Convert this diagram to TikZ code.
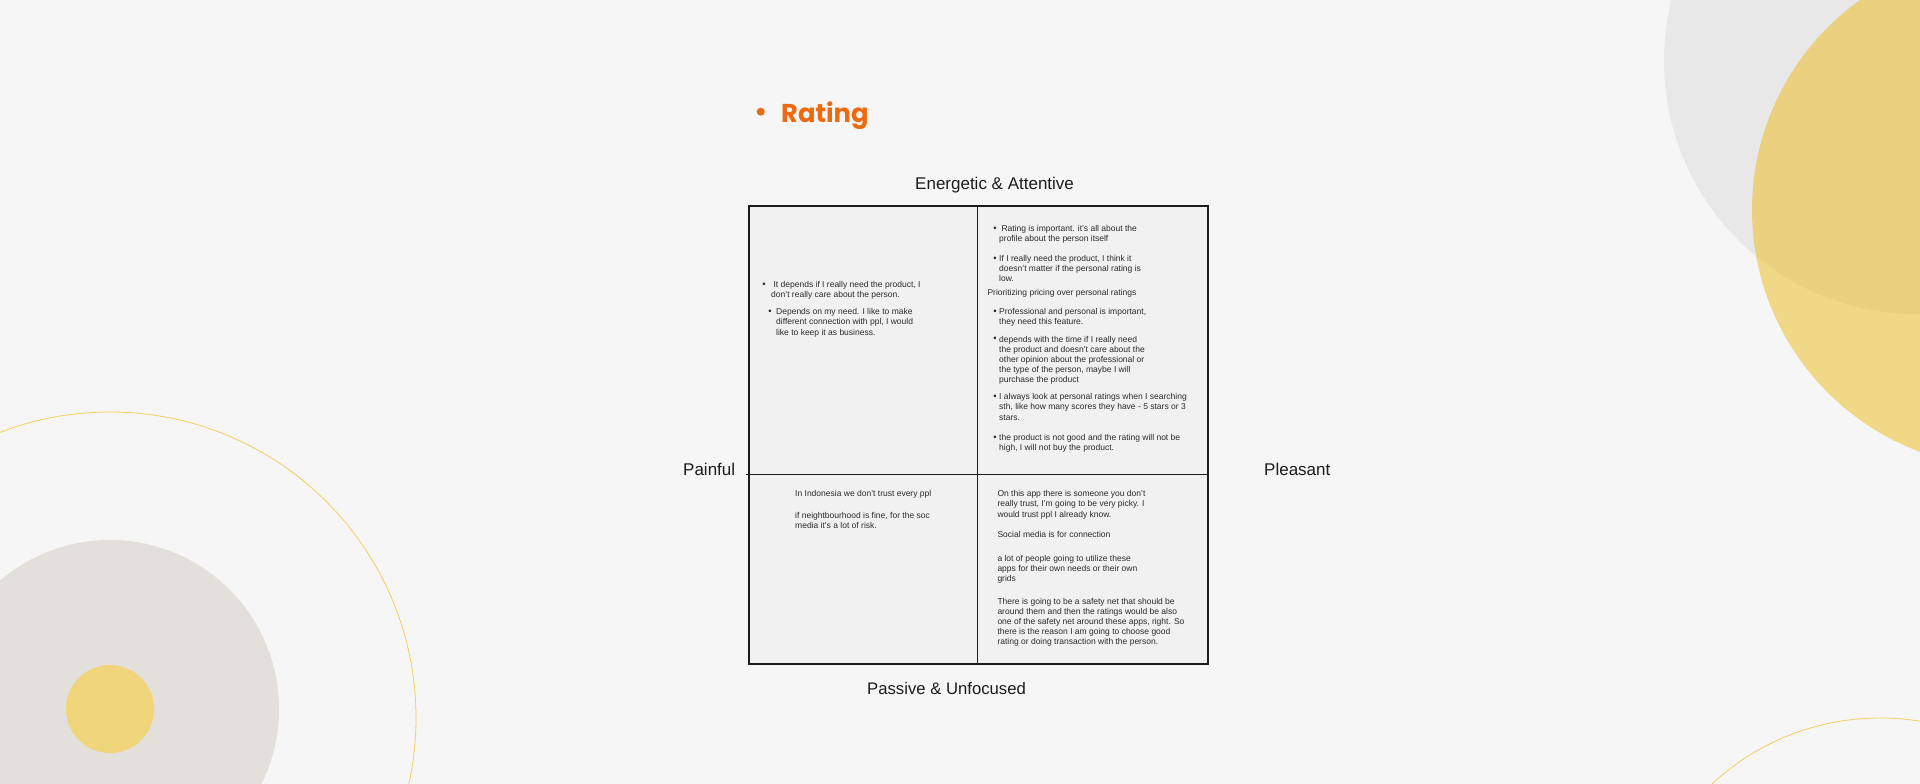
\documentclass[tikz,border=0pt]{standalone}
\usepackage{fontspec}
\setmainfont{Liberation Sans}
\newfontfamily\popb{Poppins}[UprightFont=* Bold]
\definecolor{bgc}{HTML}{F6F6F6}
\definecolor{quadc}{HTML}{F1F1F1}
\definecolor{linec}{HTML}{1C1C1C}
\definecolor{txtc}{HTML}{2A2A2A}
\definecolor{orangec}{HTML}{EC6A10}
\definecolor{greyc}{HTML}{E8E8E8}
\definecolor{yelc}{RGB}{238,188,24}
\definecolor{beigec}{HTML}{E3DFDB}
\definecolor{yel2}{HTML}{F0D57A}
\definecolor{ringc}{HTML}{F5CF5E}
\tikzset{
  para/.style={anchor=north west, inner sep=0pt, yshift=7.14pt, align=left,
    text=txtc, font=\fontsize{8.5}{10.2}\selectfont},
  bul/.style={anchor=base, inner sep=0pt, text=txtc, font=\fontsize{9.5}{10.2}\selectfont},
  axis/.style={anchor=base west, inner sep=0pt, text=linec, font=\fontsize{17}{20}\selectfont},
}
\begin{document}
\begin{tikzpicture}[x=1pt,y=-1pt]
\useasboundingbox (0,0) rectangle (1920,784);
\fill[bgc] (0,0) rectangle (1920,784);
\begin{scope}
\clip (0,0) rectangle (1920,784);
% top right circles
\fill[greyc] (1917,61) circle (253);
\fill[yelc, fill opacity=0.5] (2010,210) circle (258);
% bottom left circles
\draw[ringc, line width=0.8pt] (110,718) circle (306);
\fill[beigec] (110,709) circle (169);
\fill[yel2] (110,709) circle (44);
% bottom right ring
\draw[ringc, line width=0.8pt] (1880,965) circle (247);
\end{scope}

% title
\node[circle, fill=orangec, inner sep=0pt, minimum size=8pt] (rb) at (760.7,111.7) {};
\node[anchor=base west, inner sep=0pt, text=orangec, font=\popb\fontsize{25.8}{30}\selectfont] (rt) at (781,122.7) {Rating};

% quadrant grid
\fill[quadc] (749,206) rectangle (1208,664);
\draw[linec, line width=1.3pt] (977.5,206) -- (977.5,664);
\draw[linec, line width=1.3pt] (746,474.3) -- (1208,474.3);
\draw[linec, line width=2.2pt] (749,206) rectangle (1208,664);

% axis labels
\node[axis] (top) at (915,189.5) {Energetic \& Attentive};
\node[axis, font=\fontsize{16.7}{20}\selectfont] (bot) at (867,694) {Passive \& Unfocused};
\node[axis] (left) at (683,475) {Painful};
\node[axis] (right) at (1264,475) {Pleasant};

% Q1 (top-left)
\node[bul] (q1b1) at (764,287.2) {•};
\node[para] (q1t1) at (771,287.2) {\strut\ It depends if I really need the product, I\\don't really care about the person.};
\node[bul] (q1b2) at (770,314.5) {•};
\node[para] (q1t2) at (776,314.5) {\strut Depends on my need. I like to make\\different connection with ppl, I would\\like to keep it as business.};

% Q2 (top-right)
\node[bul] (q2b1) at (995,231.2) {•};
\node[para] (q2t1) at (999,231.2) {\strut\ Rating is important. it's all about the\\profile about the person itself};
\node[bul] (q2b2) at (995,261.2) {•};
\node[para] (q2t2) at (999,261.2) {\strut If I really need the product, I think it\\doesn't matter if the personal rating is\\low.};
\node[para] (q2t3) at (987.3,295.2) {\strut Prioritizing pricing over personal ratings};
\node[bul] (q2b4) at (995,314.2) {•};
\node[para] (q2t4) at (999,314.2) {\strut Professional and personal is important,\\they need this feature.};
\node[bul] (q2b5) at (995,341.8) {•};
\node[para] (q2t5) at (999,341.8) {\strut depends with the time if I really need\\the product and doesn't care about the\\other opinion about the professional or\\the type of the person, maybe I will\\purchase the product};
\node[bul] (q2b6) at (995,399.5) {•};
\node[para] (q2t6) at (999,399.5) {\strut I always look at personal ratings when I searching\\sth, like how many scores they have - 5 stars or 3\\stars.};
\node[bul] (q2b7) at (995,440.3) {•};
\node[para] (q2t7) at (999,440.3) {\strut the product is not good and the rating will not be\\high, I will not buy the product.};

% Q3 (bottom-left)
\node[para] (q3t1) at (795,496.5) {\strut In Indonesia we don't trust every ppl};
\node[para] (q3t2) at (795,518.2) {\strut if neightbourhood is fine, for the soc\\media it's a lot of risk.};

% Q4 (bottom-right)
\node[para] (q4t1) at (997.3,496.5) {\strut On this app there is someone you don't\\really trust, I'm going to be very picky. I\\would trust ppl I already know.};
\node[para] (q4t2) at (997.3,536.9) {\strut Social media is for connection};
\node[para] (q4t3) at (997.3,561.2) {\strut a lot of people going to utilize these\\apps for their own needs or their own\\grids};
\node[para] (q4t4) at (997.3,603.9) {\strut There is going to be a safety net that should be\\around them and then the ratings would be also\\one of the safety net around these apps, right. So\\there is the reason I am going to choose good\\rating or doing transaction with the person.};
\end{tikzpicture}
\end{document}
